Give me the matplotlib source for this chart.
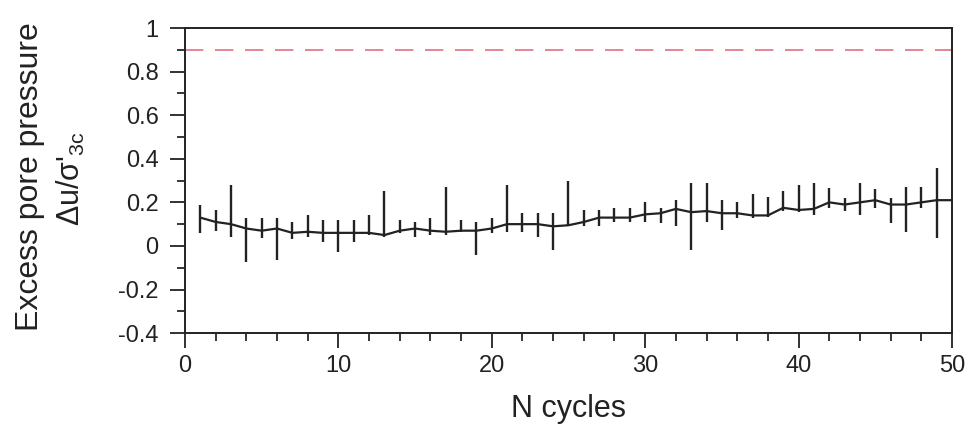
import matplotlib
matplotlib.use("Agg")
import matplotlib.pyplot as plt
import numpy as np
from matplotlib.ticker import MultipleLocator

plt.rcParams['font.family'] = ['Liberation Sans', 'DejaVu Sans']
plt.rcParams['mathtext.fontset'] = 'custom'
plt.rcParams['mathtext.rm'] = 'Liberation Sans'

# per-cycle excess pore pressure ratio: mean, max, min
cycles = np.arange(1, 51)
mean = [0.13, 0.11, 0.10, 0.08, 0.07, 0.08, 0.06, 0.065, 0.06, 0.06,
        0.06, 0.06, 0.05, 0.07, 0.08, 0.07, 0.065, 0.07, 0.07, 0.08,
        0.10, 0.10, 0.10, 0.09, 0.095, 0.11, 0.13, 0.13, 0.13, 0.145,
        0.15, 0.17, 0.155, 0.16, 0.15, 0.15, 0.14, 0.14, 0.175, 0.165,
        0.17, 0.20, 0.19, 0.20, 0.21, 0.19, 0.19, 0.20, 0.21, 0.21]
upper = [0.19, 0.165, 0.28, 0.13, 0.13, 0.13, 0.11, 0.14, 0.12, 0.12,
         0.12, 0.14, 0.25, 0.12, 0.11, 0.13, 0.27, 0.12, 0.11, 0.13,
         0.28, 0.15, 0.15, 0.15, 0.30, 0.165, 0.165, 0.175, 0.175, 0.20,
         0.175, 0.21, 0.29, 0.29, 0.21, 0.20, 0.24, 0.225, 0.25, 0.28,
         0.29, 0.265, 0.22, 0.29, 0.26, 0.22, 0.27, 0.27, 0.36, 0.21]
lower = [0.06, 0.07, 0.04, -0.075, 0.035, -0.065, 0.03, 0.04, 0.02, -0.03,
         0.02, 0.05, 0.04, 0.06, 0.04, 0.05, 0.05, 0.065, -0.04, 0.06,
         0.065, 0.065, 0.04, -0.02, 0.09, 0.09, 0.09, 0.11, 0.11, 0.11,
         0.105, 0.09, -0.02, 0.11, 0.075, 0.13, 0.13, 0.135, 0.16, 0.155,
         0.14, 0.175, 0.16, 0.14, 0.175, 0.105, 0.065, 0.175, 0.035, 0.21]
threshold = 0.9
ytick_vals = [-0.4, -0.2, 0, 0.2, 0.4, 0.6, 0.8, 1.0]
ytick_labels = ["-0.4", "-0.2", "0", "0.2", "0.4", "0.6", "0.8", "1"]

mean = np.array(mean)
yerr = [mean - np.array(lower), np.array(upper) - mean]

fig = plt.figure(figsize=(9.7, 4.32), dpi=100)
ax = fig.add_axes([0.1907, 0.229, 0.7907, 0.706])

ax.errorbar(cycles, mean, yerr=yerr, color="#222222", lw=1.6,
            elinewidth=1.7, capsize=0, fmt="-")
ax.axhline(threshold, color="#e07080", lw=1.2, ls=(0, (11, 7)))

ax.set_xlim(0, 50)
ax.set_ylim(-0.4, 1.0)
ax.xaxis.set_major_locator(MultipleLocator(10))
ax.xaxis.set_minor_locator(MultipleLocator(2))
ax.set_yticks(ytick_vals)
ax.set_yticklabels(ytick_labels)
ax.yaxis.set_minor_locator(MultipleLocator(0.1))
ax.tick_params(which="major", direction="out", length=11, width=1.3,
               labelsize=17, colors="#222222")
ax.tick_params(which="minor", direction="out", length=6, width=1.1)
ax.tick_params(axis="y", pad=8)
ax.tick_params(axis="x", pad=5)
for s in ax.spines.values():
    s.set_linewidth(1.4)
    s.set_color("#222222")

ax.set_xlabel("N cycles", fontsize=22, color="#222222", labelpad=12)
fig.text(0.031, 0.59, "Excess pore pressure", rotation=90, fontsize=23,
         ha="center", va="center", color="#222222")
fig.text(0.073, 0.587, "Δu/σ'$_{\\mathrm{3c}}$", rotation=90, fontsize=22,
         ha="center", va="center", color="#222222")

fig.savefig("out.png", dpi=100)
